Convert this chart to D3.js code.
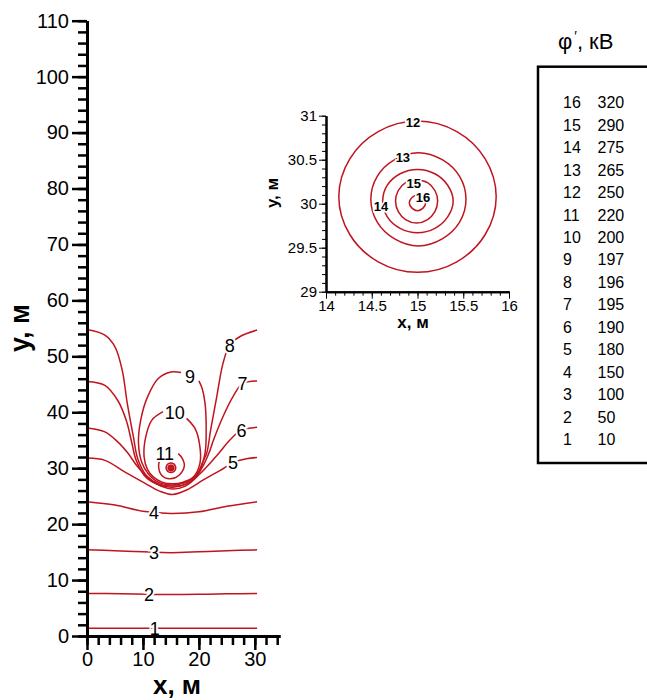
<!DOCTYPE html>
<html>
<head>
<meta charset="utf-8">
<script src="https://cdn.jsdelivr.net/npm/d3@7"></script>
<style>
  body { margin: 0; background: #fff; }
  svg text { font-family: Arial, "Liberation Sans", sans-serif; }
</style>
</head>
<body>
<div id="chart"></div>
<script>
//defaults for the chart
const width = 647
const height = 700
const lineColor = "#c0141e"

// legend table: contour number and potential, kV
const levelIds = [16, 15, 14, 13, 12, 11, 10, 9, 8, 7, 6, 5, 4, 3, 2, 1]
const levelValues = [320, 290, 275, 265, 250, 220, 200, 197, 196, 195, 190, 180, 150, 100, 50, 10]

// tick labels
const mainXTicks = [0, 10, 20, 30]
const mainYTicks = [0, 10, 20, 30, 40, 50, 60, 70, 80, 90, 100, 110]
const insetXTicks = [14, 14.5, 15, 15.5, 16]
const insetYTicks = [29, 29.5, 30, 30.5, 31]

// contour lines, [x, y] in metres
const contour1 = [[0, 1.4], [6, 1.4], [12, 1.38], [18, 1.38], [24, 1.4], [30.4, 1.4]]
const contour2 = [[0, 7.6], [6, 7.55], [11, 7.45], [15, 7.4], [20, 7.45], [25, 7.55], [30.4, 7.6]]
const contour3 = [[0, 15.4], [5, 15.25], [10, 15.05], [15, 14.9], [20, 15.05], [25, 15.25], [30.4, 15.4]]
const contour4 = [[0, 24.0], [5, 23.4], [10, 22.3], [15, 21.9], [20, 22.2], [25, 23.2], [30.4, 24.0]]
const contour5 = [[0, 31.8], [3.2, 31.4], [6.8, 29.3], [10.4, 27.3], [13, 25.9], [15.3, 25.3], [17.8, 26.1],
  [20.8, 27.9], [23.8, 29.6], [26.1, 31.0], [28.5, 31.7], [30.4, 31.9]]
const contour6 = [[0, 37.2], [3.2, 36.5], [5.5, 34.7], [7.3, 32.7], [9.1, 30.2], [11.2, 28.0], [13.2, 26.8],
  [15.3, 26.3], [17.6, 26.8], [20.2, 29.0], [22, 30.9], [23.75, 32.9], [25.5, 35.0], [27.6, 36.8], [30.4, 37.3]]
const contour7 = [[0, 45.5], [3.2, 44.8], [5.5, 42.1], [7.0, 38.6], [8.0, 34.6], [8.8, 31.4], [10.6, 28.3],
  [13, 27.0], [15.3, 26.6], [17.6, 27.1], [19.6, 28.6], [20.9, 30.7], [21.8, 32.7], [22.6, 35.0], [24.3, 39.2],
  [26.1, 42.8], [27.8, 45.1], [30.4, 45.6]]
const contour8 = [[0, 54.8], [3.2, 53.8], [5, 51.7], [6.3, 47.5], [7.2, 41.6], [8.3, 35.6], [9.1, 31.6],
  [10.7, 28.6], [12.8, 27.2], [15.3, 26.8], [17.8, 27.2], [19.6, 28.7], [20.6, 30.9], [21.4, 32.7], [22.1, 36.8],
  [23.2, 42.8], [24.3, 48.7], [25.5, 52.0], [27.3, 53.5], [30.4, 54.7]]
const contour9 = [[20.0, 45.6], [20.6, 44.2], [21.1, 41.6], [21.3, 37.4], [21.1, 32.7], [20.1, 29.6], [18.3, 27.8],
  [15.3, 27.0], [12.5, 27.6], [11.0, 28.9], [9.8, 31.0], [9.2, 34.5], [9.6, 38.6], [10.8, 42.7], [12.7, 46.0],
  [15.0, 47.2], [16.8, 47.1]]
const contour10 = [[17.8, 38.9], [19.3, 37.1], [20.1, 34.4], [20.2, 30.9], [19.0, 28.4], [17.2, 27.5], [15.3, 27.2],
  [13.4, 27.5], [11.9, 28.4], [10.8, 29.8], [10.2, 32.1], [10.5, 35.6], [11.6, 38.6], [13.6, 40.1]]
const contour11 = [[16.3, 32.6], [17.0, 31.8], [17.4, 30.4], [16.4, 28.7], [14.8, 28.1], [13.3, 28.8], [12.8, 30.3],
  [13.0, 31.5]]

// rings around the wire (shown in the inset)
const contour12 = [[15.86, 30.08], [15.74, 30.51], [15.43, 30.82], [15.0, 30.94], [14.57, 30.82], [14.26, 30.51],
  [14.14, 30.08], [14.26, 29.65], [14.57, 29.34], [15.0, 29.22], [15.43, 29.34], [15.74, 29.65]]
const contour13 = [[15.53, 30.05], [15.46, 30.31], [15.27, 30.50], [15.01, 30.58], [14.75, 30.50], [14.56, 30.31],
  [14.49, 30.05], [14.56, 29.79], [14.75, 29.60], [15.01, 29.52], [15.27, 29.60], [15.46, 29.79]]
const contour14 = [[15.39, 30.03], [15.33, 30.21], [15.19, 30.34], [15.0, 30.39], [14.81, 30.34], [14.67, 30.21],
  [14.62, 30.03], [14.67, 29.85], [14.81, 29.72], [15.0, 29.67], [15.19, 29.72], [15.33, 29.85]]
const contour15 = [[15.22, 30.03], [15.19, 30.15], [15.11, 30.24], [14.99, 30.27], [14.87, 30.24], [14.79, 30.15],
  [14.76, 30.03], [14.79, 29.91], [14.87, 29.82], [14.99, 29.78], [15.11, 29.82], [15.19, 29.91]]
const contour16 = [[15.09, 30.01], [15.06, 30.07], [15.0, 30.1], [14.94, 30.07], [14.91, 30.01], [14.94, 29.95],
  [15.0, 29.92], [15.06, 29.95]]

const openContours = [contour1, contour2, contour3, contour4, contour5, contour6, contour7, contour8,
  contour9, contour10, contour11]
const ringContours = [contour12, contour13, contour14, contour15, contour16]

// where the contour numbers sit: [number, x, y]
const mainLabels = [[1, 12.1, 1.4], [2, 11.1, 7.45], [3, 12.0, 15.0], [4, 12.0, 22.1], [5, 26.1, 31.0],
  [6, 27.6, 36.8], [7, 27.8, 45.1], [8, 25.5, 52.0], [9, 18.4, 46.4], [10, 15.7, 40.0], [11, 13.9, 32.7]]
const insetLabels = [[12, 14.95, 30.93], [13, 14.84, 30.53], [15, 14.96, 30.23], [14, 14.6, 29.97], [16, 15.06, 30.07]]


const chart = d3.select('#chart')
  .append('svg')
  .attr('width', width)
  .attr('height', height)
  .style('background', '#fff')

// main panel scales (equal metres per pixel both ways)
const xScale = d3.scaleLinear().domain([0, 34.5]).range([87, 280])
const yScale = d3.scaleLinear().domain([0, 110]).range([636, 20.7])

// inset scales
const xInset = d3.scaleLinear().domain([14, 16]).range([326, 509])
const yInset = d3.scaleLinear().domain([29, 31]).range([291.7, 115.7])


const styleAxis = function (g, domainWidth, tickWidth, fontSize) {
  g.attr('font-family', 'Arial, "Liberation Sans", sans-serif')
    .attr('font-size', fontSize)
  g.select('.domain').attr('stroke-width', domainWidth).attr('stroke', '#000')
  g.selectAll('.tick line').attr('stroke-width', tickWidth).attr('stroke', '#000')
  g.selectAll('.tick text').attr('fill', '#000')
}

const drawAxes = function () {
  // main x
  chart.append('g')
    .attr('transform', 'translate(0,' + yScale(0) + ')')
    .call(d3.axisBottom(xScale).tickValues(d3.range(0, 35, 2)).tickSize(9).tickSizeOuter(0).tickFormat(''))
    .call(g => styleAxis(g, 3, 2.5, 20))
  chart.append('g')
    .attr('id', 'x-axis')
    .attr('transform', 'translate(0,' + yScale(0) + ')')
    .call(d3.axisBottom(xScale).tickValues(mainXTicks).tickSize(14).tickSizeOuter(0).tickPadding(2))
    .call(g => styleAxis(g, 3, 2.5, 20))

  // main y
  chart.append('g')
    .attr('transform', 'translate(' + xScale(0) + ',0)')
    .call(d3.axisLeft(yScale).tickValues(d3.range(0, 111, 2)).tickSize(9).tickSizeOuter(0).tickFormat(''))
    .call(g => styleAxis(g, 3, 2.5, 20))
  chart.append('g')
    .attr('id', 'y-axis')
    .attr('transform', 'translate(' + xScale(0) + ',0)')
    .call(d3.axisLeft(yScale).tickValues(mainYTicks).tickSize(15).tickSizeOuter(0).tickPadding(3))
    .call(g => styleAxis(g, 3, 2.5, 20))

  // inset x
  chart.append('g')
    .attr('transform', 'translate(0,' + yInset(29) + ')')
    .call(d3.axisBottom(xInset).tickValues(d3.range(0, 21).map(i => 14 + i / 10)).tickSize(4).tickSizeOuter(0).tickFormat(''))
    .call(g => styleAxis(g, 2, 1, 15))
  chart.append('g')
    .attr('transform', 'translate(0,' + yInset(29) + ')')
    .call(d3.axisBottom(xInset).tickValues(insetXTicks).tickSize(7).tickSizeOuter(0).tickPadding(2).tickFormat(d3.format('')))
    .call(g => styleAxis(g, 2, 1, 15))

  // inset y
  chart.append('g')
    .attr('transform', 'translate(' + xInset(14) + ',0)')
    .call(d3.axisLeft(yInset).tickValues(d3.range(0, 21).map(i => 29 + i / 10)).tickSize(4).tickSizeOuter(0).tickFormat(''))
    .call(g => styleAxis(g, 2, 1, 15))
  chart.append('g')
    .attr('transform', 'translate(' + xInset(14) + ',0)')
    .call(d3.axisLeft(yInset).tickValues(insetYTicks).tickSize(7).tickSizeOuter(0).tickPadding(2).tickFormat(d3.format('')))
    .call(g => styleAxis(g, 2, 1, 15))

  // axis titles
  chart.append('text')
    .attr('x', 177).attr('y', 694)
    .attr('text-anchor', 'middle')
    .attr('font-size', 26).attr('font-weight', 'bold')
    .text('x, м')
  chart.append('text')
    .attr('transform', 'translate(29,328) rotate(-90)')
    .attr('text-anchor', 'middle')
    .attr('font-size', 27).attr('font-weight', 'bold')
    .text('y, м')

  chart.append('text')
    .attr('x', 413).attr('y', 328)
    .attr('text-anchor', 'middle')
    .attr('font-size', 17).attr('font-weight', 'bold')
    .text('x, м')
  chart.append('text')
    .attr('transform', 'translate(278,193) rotate(-90)')
    .attr('text-anchor', 'middle')
    .attr('font-size', 17).attr('font-weight', 'bold')
    .text('y, м')
}

const drawContours = function () {
  const mainLine = d3.line()
    .x(d => xScale(d[0]))
    .y(d => yScale(d[1]))
    .curve(d3.curveCatmullRom.alpha(0.5))
  const mainRing = d3.line()
    .x(d => xScale(d[0]))
    .y(d => yScale(d[1]))
    .curve(d3.curveCatmullRomClosed.alpha(0.5))
  const insetRing = d3.line()
    .x(d => xInset(d[0]))
    .y(d => yInset(d[1]))
    .curve(d3.curveCatmullRomClosed.alpha(0.5))

  chart.append('g').selectAll('path')
    .data(openContours)
    .enter().append('path')
    .attr('d', mainLine)
    .attr('fill', 'none')
    .attr('stroke', lineColor)
    .attr('stroke-width', 1.5)

  chart.append('g').selectAll('path')
    .data(ringContours)
    .enter().append('path')
    .attr('d', mainRing)
    .attr('fill', 'none')
    .attr('stroke', lineColor)
    .attr('stroke-width', 1.5)

  chart.append('g').selectAll('path')
    .data(ringContours)
    .enter().append('path')
    .attr('d', insetRing)
    .attr('fill', 'none')
    .attr('stroke', lineColor)
    .attr('stroke-width', 1.5)

  // numbers on the lines, white halo cuts the line
  chart.append('g').selectAll('text')
    .data(mainLabels)
    .enter().append('text')
    .attr('x', d => xScale(d[1]))
    .attr('y', d => yScale(d[2]))
    .attr('dy', '0.36em')
    .attr('text-anchor', 'middle')
    .attr('font-size', 18)
    .attr('stroke', '#fff').attr('stroke-width', 4).attr('paint-order', 'stroke')
    .text(d => d[0])

  chart.append('g').selectAll('text')
    .data(insetLabels)
    .enter().append('text')
    .attr('x', d => xInset(d[1]))
    .attr('y', d => yInset(d[2]))
    .attr('dy', '0.36em')
    .attr('text-anchor', 'middle')
    .attr('font-size', 13).attr('font-weight', 'bold')
    .attr('stroke', '#fff').attr('stroke-width', 3).attr('paint-order', 'stroke')
    .text(d => d[0])
}

const drawLegend = function () {
  const title = chart.append('text')
    .attr('x', 558).attr('y', 49)
    .attr('font-size', 22)
  title.append('tspan').text('φ')
  title.append('tspan').attr('dx', 2).attr('dy', -8).attr('font-size', 14).text('′')
  title.append('tspan').attr('dy', 8).text(', кВ')

  chart.append('rect')
    .attr('x', 538).attr('y', 66.7)
    .attr('width', 140).attr('height', 396.3)
    .attr('fill', 'none')
    .attr('stroke', '#000')
    .attr('stroke-width', 2.5)

  const rows = chart.append('g').selectAll('g')
    .data(levelIds)
    .enter().append('g')
    .attr('transform', (d, i) => 'translate(0,' + (108.3 + i * 22.45) + ')')

  rows.append('text')
    .attr('x', 563)
    .attr('font-size', 16)
    .text(d => d)

  rows.append('text')
    .attr('x', 597.5)
    .attr('font-size', 16)
    .text((d, i) => levelValues[i])
}

drawContours()
drawAxes()
drawLegend()
</script>
</body>
</html>
